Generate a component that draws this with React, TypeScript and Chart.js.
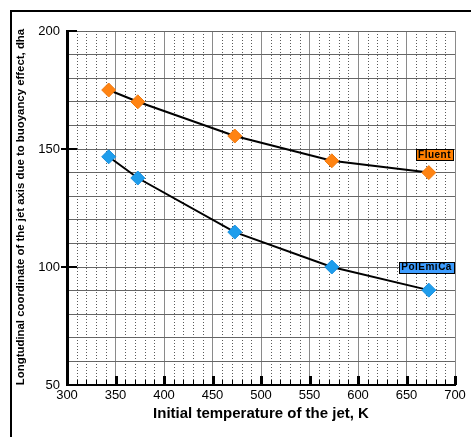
import React, { useEffect, useRef } from "react";
import { Chart, registerables } from "chart.js";

Chart.register(...registerables);

// ---- data ----
const temperatures = [343, 373, 473, 573, 673];
const fluentValues = [175, 170, 155.5, 145, 140];
const polemicaValues = [146.7, 137.7, 114.8, 100, 90.2];
const seriesNames = ["Fluent", "PolEmiCa"];
const xLabelStep = 50;
const xMinorStep = 10;
const yGridStep = 10;
const yLabelStep = 50;
const xTitle = "Initial temperature of the jet, K";
const yTitle = "Longtudinal coordinate of the jet axis due to buoyancy effect, dha";
// annotation anchors (data coords)
const fluentLabelAnchor = [678.4, 147.7];
const polemicaLabelAnchor = [670.2, 100.0];

const FONT = "'Liberation Sans', Arial, Helvetica, sans-serif";
const ORANGE = "#FF8312";
const BLUE = "#1E9DEC";

const decor = {
  id: "decor",
  beforeDraw(chart: any) {
    const { ctx, width, height } = chart;
    ctx.save();
    ctx.fillStyle = "#ffffff";
    ctx.fillRect(0, 0, width, height);
    ctx.strokeStyle = "#000";
    ctx.lineWidth = 2;
    ctx.beginPath();
    ctx.moveTo(11, height);
    ctx.lineTo(11, 11);
    ctx.lineTo(width, 11);
    ctx.stroke();
    ctx.restore();
  },
  beforeDatasetsDraw(chart: any) {
    const { ctx, chartArea } = chart;
    const xs = chart.scales.x;
    const ys = chart.scales.y;
    ctx.save();
    // minor dotted vertical lines
    ctx.strokeStyle = "#5a5a5a";
    ctx.lineWidth = 1;
    ctx.setLineDash([1, 2]);
    for (let v = xs.min + xMinorStep; v < xs.max; v += xMinorStep) {
      if (Math.abs(v % xLabelStep) < 1e-6) continue;
      const px = Math.round(xs.getPixelForValue(v)) + 0.5;
      ctx.beginPath();
      ctx.moveTo(px, chartArea.top);
      ctx.lineTo(px, chartArea.bottom);
      ctx.stroke();
    }
    ctx.setLineDash([]);
    // x ticks (inward)
    ctx.strokeStyle = "#000";
    for (let v = xs.min + xMinorStep; v <= xs.max; v += xMinorStep) {
      const major = Math.abs(v % xLabelStep) < 1e-6;
      const px = Math.round(xs.getPixelForValue(v)) + 0.5;
      ctx.lineWidth = major ? 3 : 1;
      ctx.beginPath();
      ctx.moveTo(px, chartArea.bottom);
      ctx.lineTo(px, chartArea.bottom - (major ? 9 : 5));
      ctx.stroke();
    }
    // y ticks (crossing)
    ctx.lineWidth = 2;
    for (let v = ys.min + yLabelStep; v <= ys.max; v += yLabelStep) {
      const py = Math.round(ys.getPixelForValue(v));
      ctx.beginPath();
      ctx.moveTo(chartArea.left - (v === ys.max ? 0 : 6), py);
      ctx.lineTo(chartArea.left + 10, py);
      ctx.stroke();
    }
    ctx.restore();
  },
  afterDatasetsDraw(chart: any) {
    const { ctx, chartArea } = chart;
    const xs = chart.scales.x;
    const ys = chart.scales.y;
    ctx.save();
    const boxes: [string, number[], string][] = [
      [seriesNames[0], fluentLabelAnchor, "#FF8000"],
      [seriesNames[1], polemicaLabelAnchor, "#3D9DFF"],
    ];
    ctx.font = `bold 10px ${FONT}`;
    (ctx as any).letterSpacing = "0.5px";
    ctx.textAlign = "center";
    ctx.textBaseline = "middle";
    for (const [txt, anchor, fill] of boxes) {
      const cx = xs.getPixelForValue(anchor[0]);
      const cy = ys.getPixelForValue(anchor[1]);
      const w = ctx.measureText(txt).width + 4;
      const h = 11;
      const x0 = Math.round(cx - w / 2) + 0.5;
      const y0 = Math.round(cy - h / 2) + 0.5;
      ctx.fillStyle = fill;
      ctx.fillRect(x0, y0, Math.round(w), h);
      ctx.strokeStyle = "#000";
      ctx.lineWidth = 1;
      ctx.strokeRect(x0, y0, Math.round(w), h);
      ctx.fillStyle = "#000";
      ctx.fillText(txt, cx + 0.5, cy + 0.5);
    }
    (ctx as any).letterSpacing = "0px";
    // axis titles
    ctx.fillStyle = "#000";
    ctx.font = `bold 15px ${FONT}`;
    ctx.textAlign = "center";
    ctx.textBaseline = "middle";
    ctx.fillText(xTitle, (chartArea.left + chartArea.right) / 2, 414);
    ctx.save();
    ctx.translate(21, 207);
    ctx.rotate(-Math.PI / 2);
    ctx.font = `bold 11.4px ${FONT}`;
    ctx.fillText(yTitle, 0, 0);
    ctx.restore();
    ctx.restore();
  },
};

export default function App() {
  const ref = useRef<HTMLCanvasElement>(null);
  useEffect(() => {
    if (!ref.current) return;
    const mk = (vals: number[]) => temperatures.map((t, i) => ({ x: t, y: vals[i] }));
    const chart = new Chart(ref.current, {
      type: "line",
      data: {
        datasets: [
          {
            label: seriesNames[0],
            data: mk(fluentValues),
            borderColor: "#000",
            borderWidth: 2,
            pointStyle: "rectRot",
            pointRadius: 7,
            pointBackgroundColor: ORANGE,
            pointBorderColor: "#F07A10",
            pointBorderWidth: 1,
          },
          {
            label: seriesNames[1],
            data: mk(polemicaValues),
            borderColor: "#000",
            borderWidth: 2,
            pointStyle: "rectRot",
            pointRadius: 7,
            pointBackgroundColor: BLUE,
            pointBorderColor: "#1990E0",
            pointBorderWidth: 1,
          },
        ],
      },
      options: {
        responsive: false,
        animation: false,
        layout: { padding: { left: 11, right: 16, top: 31, bottom: 0 } },
        plugins: { legend: { display: false }, tooltip: { enabled: false } },
        scales: {
          x: {
            type: "linear",
            min: 300,
            max: 700,
            afterFit: (s: any) => {
              s.height = 52;
            },
            ticks: {
              stepSize: xLabelStep,
              padding: 3,
              color: "#000",
              font: { family: FONT, size: 13 },
              maxRotation: 0,
              autoSkip: false,
            },
            grid: { color: "#8a8a8a", lineWidth: 1, drawTicks: false },
            border: { display: true, color: "#000", width: 2 },
          },
          y: {
            type: "linear",
            min: 50,
            max: 200,
            afterFit: (s: any) => {
              s.width = 56;
            },
            ticks: {
              stepSize: yGridStep,
              padding: 7,
              color: "#000",
              autoSkip: false,
              font: { family: FONT, size: 13 },
              callback: (v: any) => (Number(v) % yLabelStep === 0 ? String(v) : ""),
            },
            grid: { color: "#666666", lineWidth: 1, drawTicks: false },
            border: { display: true, color: "#000", width: 3 },
          },
        },
      },
      plugins: [decor],
    });
    return () => chart.destroy();
  }, []);
  return (
    <div style={{ position: "absolute", left: 0, top: 0, width: 471, height: 437 }}>
      <canvas ref={ref} width={471} height={437} style={{ width: 471, height: 437 }} />
    </div>
  );
}
